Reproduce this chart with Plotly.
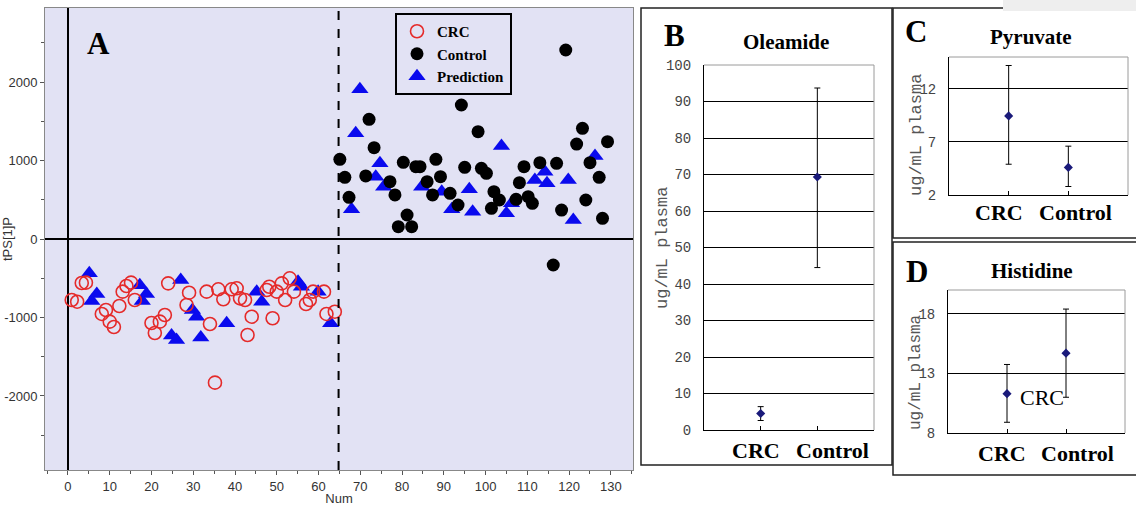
import plotly.graph_objects as go

W, H = 1136, 506
def px(x): return x / W
def py(y): return 1 - y / H

# ---------------- Panel A data (score plot) ----------------
crc_num = [0.9, 2.2, 3.3, 4.3, 8.1, 9.1, 10.0, 11.0, 12.3, 13.1, 14.0, 15.1, 16.0, 20.0, 20.8,
           22.0, 23.2, 24.0, 28.4, 29.0, 33.2, 34.0, 35.2, 36.0, 37.2, 39.2, 40.4, 41.2, 42.4,
           43.0, 44.0, 47.6, 48.2, 49.0, 50.0, 51.2, 52.0, 53.1, 54.1, 57.0, 57.9, 58.7, 61.3,
           61.9, 63.9]
crc_tps = [-777, -799, -561, -556, -955, -905, -1053, -1121, -854, -671, -599, -556, -777, -1070,
           -1198, -1053, -968, -565, -841, -684, -671, -1083, -1830, -641, -768, -641, -628, -756,
           -777, -1223, -990, -650, -608, -1010, -671, -565, -777, -501, -671, -828, -777, -671,
           -671, -955, -926]

ctrl_num = [65.1, 66.3, 67.3, 71.3, 72.1, 73.3, 77.1, 78.3, 80.3, 79.1, 81.2, 82.3, 83.3, 84.3,
            86.0, 87.3, 88.1, 89.2, 91.5, 93.4, 94.2, 95.0, 98.2, 99.0, 100.2, 101.4, 102.0, 103.3,
            107.3, 108.1, 109.2, 110.2, 111.2, 113.0, 116.2, 117.0, 118.2, 119.2, 121.8, 123.2,
            124.0, 125.0, 127.2, 128.0, 129.2]
ctrl_tps = [1015, 786, 531, 803, 1525, 1163, 730, 561, 977, 157, 306, 157, 921, 921, 730, 561,
            1015, 794, 582, 433, 1707, 913, 1367, 900, 837, 391, 603, 497, 506, 717, 921, 539,
            454, 972, -331, 964, 369, 2408, 1210, 1410, 497, 972, 786, 264, 1240]

pred_num = [5.1, 6.9, 5.7, 17.2, 18.8, 17.8, 24.8, 26.0, 27.0, 29.8, 30.8, 31.8, 38.0, 45.2, 46.4,
            55.1, 55.9, 59.9, 62.9,
            69.9, 68.9, 67.9, 74.7, 73.7, 75.6, 84.7, 89.5, 91.9, 96.1, 96.9, 103.8, 105.0, 106.2,
            111.8, 114.2, 114.7, 119.8, 121.0, 126.2]
pred_tps = [-437, -700, -790, -590, -700, -790, -1230, -1287, -522, -905, -990, -1255, -1074, -671,
            -799, -544, -608, -671, -1074,
            1907, 1346, 378, 964, 794, 666, 666, 603, 378, 633, 348, 1185, 327, 454, 752, 858, 709,
            752, 242, 1058]

a_xticks = list(range(0, 131, 10))
a_yticks = [-2000, -1000, 0, 1000, 2000]
a_ytext = ["-2000", "-1000", "0", "1000", "2000"]

# ---------------- Panels B-D data (mean with error bars) ----------------
groups = ["CRC", "Control"]
oleamide_mean = [4.5, 69.3]
oleamide_hi = [6.4, 93.7]
oleamide_lo = [2.6, 44.5]
pyruvate_mean = [9.45, 4.6]
pyruvate_hi = [14.2, 6.6]
pyruvate_lo = [4.9, 2.8]
histidine_mean = [11.3, 14.7]
histidine_hi = [13.75, 18.4]
histidine_lo = [8.9, 11.0]

b_ticks = list(range(0, 101, 10))
c_ticks = [2, 7, 12]
d_ticks = [8, 13, 18]

BG = "#E2E2F4"
fig = go.Figure()

# Panel A traces
fig.add_trace(go.Scatter(x=pred_num, y=pred_tps, mode="markers", name="Prediction", legendrank=3,
                         marker=dict(symbol="triangle-up", size=15, color="#0A0AEE"),
                         xaxis="x", yaxis="y"))
fig.add_trace(go.Scatter(x=crc_num, y=crc_tps, mode="markers", name="CRC", legendrank=1,
                         marker=dict(symbol="circle-open", size=13, color="#E52A2A",
                                     line=dict(width=1.6, color="#E52A2A")),
                         xaxis="x", yaxis="y"))
fig.add_trace(go.Scatter(x=ctrl_num, y=ctrl_tps, mode="markers", name="Control", legendrank=2,
                         marker=dict(symbol="circle", size=13, color="black"),
                         xaxis="x", yaxis="y"))

def err_trace(mean, hi, lo, xa, ya):
    return go.Scatter(x=groups, y=mean, mode="markers", showlegend=False,
                      marker=dict(symbol="diamond", size=7, color="#1A1A7A"),
                      error_y=dict(type="data", symmetric=False,
                                   array=[h - m for h, m in zip(hi, mean)],
                                   arrayminus=[m - l for m, l in zip(mean, lo)],
                                   color="black", thickness=1, width=3),
                      xaxis=xa, yaxis=ya)

fig.add_trace(err_trace(oleamide_mean, oleamide_hi, oleamide_lo, "x2", "y2"))
fig.add_trace(err_trace(pyruvate_mean, pyruvate_hi, pyruvate_lo, "x3", "y3"))
fig.add_trace(err_trace(histidine_mean, histidine_hi, histidine_lo, "x4", "y4"))

tickA = dict(family="Liberation Sans, Arial", size=13, color="#333")
fig.update_layout(
    width=W, height=H, margin=dict(l=0, r=0, t=0, b=0, autoexpand=False),
    paper_bgcolor="white", plot_bgcolor="white",
    showlegend=True,
    legend=dict(x=px(395), y=py(13), xanchor="left", yanchor="top", bgcolor=BG,
                bordercolor="black", borderwidth=2, itemwidth=30, tracegroupgap=0,
                font=dict(family="Liberation Serif, Times New Roman", size=15, color="black",
                          weight="bold")),
    xaxis=dict(domain=[px(45), px(633)], range=[-5.5, 135.3], tickvals=a_xticks,
               ticks="outside", ticklen=4, tickcolor="#555", tickfont=tickA, automargin=False,
               showgrid=False, zeroline=True, zerolinecolor="black", zerolinewidth=2,
               showline=True, linecolor="#888", linewidth=1, mirror=True,
               minor=dict(tickmode="linear", tick0=0, dtick=5, ticks="outside", ticklen=3,
                          tickcolor="#555"),
               title=dict(text="Num", font=tickA, standoff=2), anchor="y"),
    yaxis=dict(domain=[py(470), py(8)], range=[-2943, 2943], tickvals=a_yticks, ticktext=a_ytext,
               ticks="outside", ticklen=4, tickcolor="#555", tickfont=tickA, automargin=False,
               showgrid=False, zeroline=True, zerolinecolor="black", zerolinewidth=2,
               showline=True, linecolor="#888", linewidth=1, mirror=True,
               minor=dict(tickmode="linear", tick0=0, dtick=500, ticks="outside", ticklen=3,
                          tickcolor="#555"),
               title=dict(text="tPS[1]P", font=tickA, standoff=2), anchor="x"),
)

numfont = dict(family="Liberation Mono, Courier New", size=14, color="#444")

def cat_axis(dom, ya):
    return dict(domain=dom, type="category", categoryorder="array", categoryarray=groups,
                range=[-1, 2], showline=True, linecolor="black", linewidth=1, ticks="inside",
                ticklen=4, tickcolor="black", showticklabels=False, showgrid=False,
                automargin=False, anchor=ya)

def val_axis(dom, rng, tv, xa):
    return dict(domain=dom, range=rng, tickvals=tv, showline=True, linecolor="black",
                linewidth=1, ticks="", tickfont=numfont, showgrid=True, gridcolor="black",
                gridwidth=1, zeroline=False, ticklabelstandoff=9, automargin=False, anchor=xa)

fig.update_layout(
    xaxis2=cat_axis([px(704), px(874)], "y2"),
    yaxis2=val_axis([py(430), py(65)], [0, 100], b_ticks, "x2"),
    xaxis3=cat_axis([px(949), px(1128)], "y3"),
    yaxis3=val_axis([py(195), py(57)], [2, 15], c_ticks, "x3"),
    xaxis4=cat_axis([px(948), px(1125)], "y4"),
    yaxis4=val_axis([py(433), py(290)], [8, 20], d_ticks, "x4"),
)

shapes = []
# lavender background of panel A
shapes.append(dict(type="rect", xref="x domain", yref="y domain", x0=0, x1=1, y0=0, y1=1,
                   fillcolor=BG, line=dict(width=0), layer="below"))
# dashed separator in panel A
shapes.append(dict(type="line", xref="x", yref="y domain", x0=64.8, x1=64.8, y0=0, y1=1,
                   line=dict(color="black", width=2, dash="dash"), layer="above"))
# gray top/right frame for B-D plots
for xa, ya in [("x2", "y2"), ("x3", "y3"), ("x4", "y4")]:
    shapes.append(dict(type="line", xref=xa + " domain", yref=ya + " domain", x0=0, x1=1, y0=1, y1=1,
                       line=dict(color="#9A9A9A", width=1)))
    shapes.append(dict(type="line", xref=xa + " domain", yref=ya + " domain", x0=1, x1=1, y0=0, y1=1,
                       line=dict(color="#9A9A9A", width=1)))
# panel boxes
for (x0, y0, x1, y1) in [(641, 8, 892, 465), (893, 8, 1140, 238), (893, 242, 1140, 475)]:
    shapes.append(dict(type="rect", xref="paper", yref="paper", x0=px(x0), x1=px(x1),
                       y0=py(y1), y1=py(y0), line=dict(color="#222", width=1.5)))
# light gray strip top-right
shapes.append(dict(type="rect", xref="paper", yref="paper", x0=px(1003), x1=px(1140),
                   y0=py(11), y1=py(0), fillcolor="#EEEEEE", line=dict(width=0)))
fig.update_layout(shapes=shapes)

ann = []
def A(text, x, y, size, bold=True, angle=0, color="black", family=None):
    f = dict(family=family or "Liberation Serif, Times New Roman", size=size, color=color)
    if bold:
        f["weight"] = "bold"
    ann.append(dict(text=text, x=px(x), y=py(y), xref="paper", yref="paper", showarrow=False,
                    xanchor="center", yanchor="middle", textangle=angle, font=f))

A("A", 98, 44, 31)
A("B", 674, 35, 31)
A("C", 916, 32, 31)
A("D", 917, 271, 31)
A("Oleamide", 786, 42, 21)
A("Pyruvate", 1031, 37, 21)
A("Histidine", 1032, 271, 21)
# group labels under each small panel
for (xc, xk, yl) in [(756, 832, 450), (999, 1075, 212), (1002, 1077, 453)]:
    A(groups[0], xc, yl, 22)
    A(groups[1], xk, yl, 22)
A("ug/mL plasma", 662, 248, 17, bold=False, angle=-90, color="#555",
  family="Liberation Mono, Courier New")
A("ug/mL plasma", 916, 135, 17, bold=False, angle=-90, color="#555",
  family="Liberation Mono, Courier New")
A("ug/mL plasma", 916, 372, 16, bold=False, angle=-90, color="#555",
  family="Liberation Mono, Courier New")
A("CRC", 1042, 397, 22, bold=False)
fig.update_layout(annotations=ann)

fig.write_html("out.html")
